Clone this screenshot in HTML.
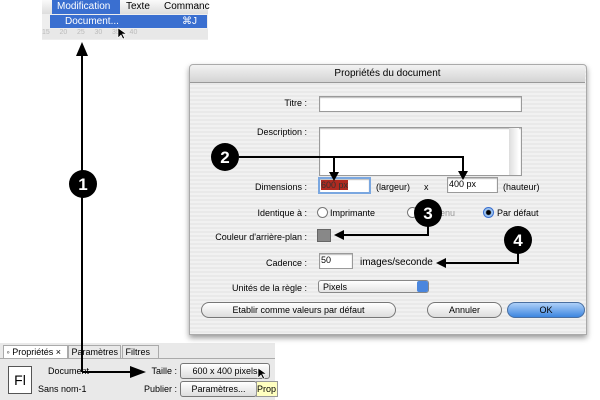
<!DOCTYPE html>
<html><head><meta charset="utf-8"><style>
body{margin:0;width:600px;height:400px;background:#fff;position:relative;overflow:hidden;font-family:"Liberation Sans",sans-serif;font-size:9px;color:#000}
.a{position:absolute;white-space:nowrap}
.in{position:absolute;background:#fff;border:1px solid #9a9a9a;box-shadow:inset 0 1px 1px #bbb;line-height:13px;font-size:9px;padding-left:1px;box-sizing:border-box}
.btn{position:absolute;height:14px;border:1px solid #777;border-radius:8px;background:linear-gradient(#fff,#ddd);text-align:center;line-height:14px;font-size:9px}
.rad{position:absolute;width:9px;height:9px;border:1px solid #777;border-radius:50%;background:#fff}
.r{text-align:right}
</style></head><body>
<!-- top menu -->
<div class="a" style="left:42px;top:0;width:166px;height:40px;background:#eee"></div>
<div class="a" style="left:42px;top:0;width:166px;height:14px;background:linear-gradient(#fafafa,#ddd)"></div>
<div class="a" style="left:52px;top:0;width:68px;height:14px;background:#3a6fd0;color:#fff;font-size:10px;line-height:14px;padding-left:5px;box-sizing:border-box">Modification</div>
<div class="a" style="left:126px;top:1px;font-size:10px">Texte</div>
<div class="a" style="left:164px;top:1px;font-size:10px">Commanc</div>
<div class="a" style="left:50px;top:15px;width:157px;height:13px;background:#3a6fd0;color:#fff;font-size:10px;line-height:13px;padding-left:15px;box-sizing:border-box">Document...<span style="position:absolute;right:10px">⌘J</span></div>
<div class="a" style="left:42px;top:29px;width:166px;height:10px;background:#e8e8e8;color:#bbb;font-size:7px">15&nbsp;&nbsp;&nbsp;&nbsp;&nbsp;20&nbsp;&nbsp;&nbsp;&nbsp;&nbsp;25&nbsp;&nbsp;&nbsp;&nbsp;&nbsp;30&nbsp;&nbsp;&nbsp;&nbsp;&nbsp;35&nbsp;&nbsp;&nbsp;&nbsp;&nbsp;40</div>

<!-- bottom panel -->
<div class="a" style="left:0;top:343px;width:275px;height:57px;background:#e9e9e9"></div>
<div class="a" style="left:3px;top:345px;width:63px;height:12px;background:#fff;border:1px solid #aaa;font-size:9px;line-height:12px">&nbsp;◦ Propriétés ×</div>
<div class="a" style="left:68px;top:345px;width:51px;height:12px;border:1px solid #aaa;font-size:9px;line-height:12px">&nbsp;Paramètres</div>
<div class="a" style="left:122px;top:345px;width:35px;height:12px;border:1px solid #aaa;font-size:9px;line-height:12px">&nbsp;Filtres</div>
<div class="a" style="left:0;top:358px;width:275px;height:1px;background:#aaa"></div>
<div class="a" style="left:8px;top:366px;width:22px;height:26px;background:#fff;border:1px solid #555;font-size:14px;line-height:26px;text-align:center">Fl</div>
<div class="a" style="left:48px;top:366px">Document</div>
<div class="a" style="left:38px;top:384px">Sans nom-1</div>
<div class="a r" style="left:120px;width:57px;top:366px">Taille :</div>
<div class="a r" style="left:120px;width:57px;top:384px">Publier :</div>
<div class="btn" style="left:180px;top:363px;width:88px;border-radius:3px">600 x 400 pixels</div>
<div class="btn" style="left:180px;top:381px;width:75px;border-radius:3px">Paramètres...</div>
<div class="a" style="left:256px;top:381px;width:20px;height:14px;background:#ffffc0;border:1px solid #999;font-size:9px;line-height:14px">Prop</div>

<!-- dialog -->
<div class="a" style="left:189px;top:64px;width:396px;height:269px;background:repeating-linear-gradient(#f1f1f1 0 2px,#e9e9e9 2px 4px);border:1px solid #aaa;border-radius:4px 4px 0 0;box-shadow:0 3px 6px rgba(0,0,0,.4)"></div>
<div class="a" style="left:190px;top:65px;width:395px;height:17px;background:linear-gradient(#f2f2f2,#d4d4d4);border-bottom:1px solid #999;text-align:center;line-height:17px;font-size:10px;border-radius:4px 4px 0 0">Propriétés du document</div>
<div class="a r" style="left:200px;width:107px;top:98px">Titre :</div>
<div class="in" style="left:319px;top:96px;width:203px;height:16px"></div>
<div class="a r" style="left:200px;width:107px;top:127px">Description :</div>
<div class="in" style="left:319px;top:127px;width:203px;height:49px"></div>
<div class="a" style="left:509px;top:128px;width:10px;height:47px;background:linear-gradient(90deg,#ddd,#fff)"></div>
<div class="a r" style="left:200px;width:107px;top:182px">Dimensions :</div>
<div class="in" style="left:318px;top:177px;width:53px;height:17px;border:2px solid #7aa7e0"><span style="background:#b02a20;color:#333">600 px</span></div>
<div class="a" style="left:376px;top:182px">(largeur)</div>
<div class="a" style="left:424px;top:182px">x</div>
<div class="in" style="left:447px;top:177px;width:51px;height:16px">400 px</div>
<div class="a" style="left:503px;top:182px">(hauteur)</div>
<div class="a r" style="left:200px;width:107px;top:208px">Identique à :</div>
<div class="rad" style="left:317px;top:207px"></div><div class="a" style="left:330px;top:208px">Imprimante</div>
<div class="rad" style="left:407px;top:207px"></div><div class="a" style="left:440px;top:208px;color:#999">enu</div>
<div class="rad" style="left:483px;top:207px;border-color:#3a6fd0;background:radial-gradient(#000 2px,#9cc3f0 3px)"></div><div class="a" style="left:497px;top:208px">Par défaut</div>
<div class="a r" style="left:190px;width:117px;top:232px">Couleur d'arrière-plan :</div>
<div class="a" style="left:317px;top:229px;width:12px;height:11px;background:#888;border:1px solid #666"></div>
<div class="a r" style="left:200px;width:107px;top:258px">Cadence :</div>
<div class="in" style="left:319px;top:253px;width:34px;height:16px">50</div>
<div class="a" style="left:360px;top:257px;font-size:10px">images/seconde</div>
<div class="a r" style="left:200px;width:107px;top:283px">Unités de la règle :</div>
<div class="a" style="left:318px;top:280px;width:111px;height:13px;border:1px solid #888;border-radius:3px;background:linear-gradient(#fff,#e4e4e4);font-size:9px;line-height:13px;padding-left:4px;box-sizing:border-box">Pixels</div>
<div class="a" style="left:417px;top:281px;width:11px;height:11px;background:#4a86de;border-radius:2px"></div>
<div class="btn" style="left:201px;top:302px;width:193px">Etablir comme valeurs par défaut</div>
<div class="btn" style="left:427px;top:302px;width:73px">Annuler</div>
<div class="btn" style="left:507px;top:302px;width:76px;background:linear-gradient(#aed0f8,#3d86e0);border-color:#4a6fa0">OK</div>

<!-- callouts -->
<svg class="a" style="left:0;top:0" width="600" height="400">
<g stroke="#000" stroke-width="2" fill="none">
<polyline points="82,372 82,50"/>
<polyline points="82,372 134,372"/>
<polyline points="239,157 463,157 463,172"/>
<polyline points="334,157 334,173"/>
<polyline points="428,213 428,235 342,235"/>
<polyline points="518,240 518,263 444,263"/>
</g>
<g fill="#000">
<path d="M76,56L82,42L88,56z"/>
<path d="M130,366L146,372L130,378z"/>
<path d="M329,172L334,181L339,172z"/>
<path d="M458,171L463,180L468,171z"/>
<path d="M344,230L334,235L344,240z"/>
<path d="M446,258L436,263L446,268z"/>
<circle cx="83" cy="184" r="14"/><circle cx="225" cy="157" r="14"/><circle cx="428" cy="213" r="14"/><circle cx="518" cy="240" r="14"/>
</g>
<g fill="#fff" font-family="Liberation Sans,sans-serif" font-weight="bold" font-size="17" text-anchor="middle">
<text x="83" y="190">1</text><text x="225" y="163">2</text><text x="428" y="219">3</text><text x="518" y="246">4</text>
</g>
<path d="M118,28l0,10l3,-3l2,4l1.5,-1l-2,-4l4,0z" fill="#000" stroke="#fff" stroke-width=".6"/>
<path d="M258,368l0,10l3,-3l2,4l1.5,-1l-2,-4l4,0z" fill="#000" stroke="#fff" stroke-width=".6"/>
</svg>
</body></html>
